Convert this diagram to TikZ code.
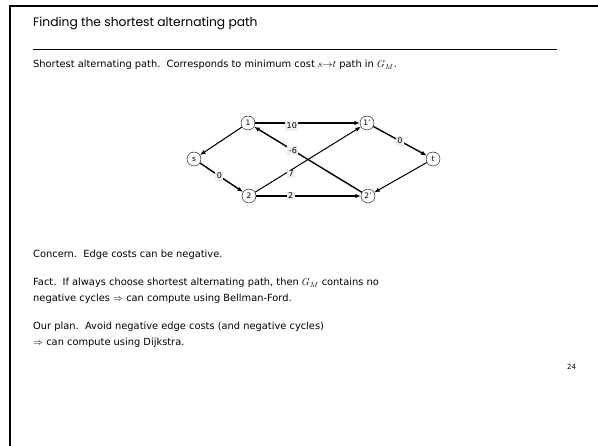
\documentclass[tikz,border=0pt]{standalone}
\usepackage{fontspec}
\setsansfont{DejaVu Sans}
\newfontfamily\titlefont{Poppins}
\usetikzlibrary{positioning,arrows.meta}
\definecolor{lblgray}{HTML}{EEEEEE}

\begin{document}
\begin{tikzpicture}[x=1pt, y=-1pt,
    vertex/.style={draw, circle, inner sep=0pt, minimum size=14pt, font=\sffamily\fontsize{7.5}{8}\selectfont},
    lbl/.style={fill=lblgray, inner sep=1.5pt, font=\sffamily\fontsize{8}{9}\selectfont},
    body/.style={anchor=base west, inner sep=0pt, font=\sffamily\fontsize{9.85}{11}\selectfont},
    heavy/.style={-{Latex[length=5.5pt,width=4.5pt]}, line width=1.4pt},
    light/.style={-{Latex[length=5.5pt,width=4.5pt]}, line width=1pt},
]
\useasboundingbox (0,0) rectangle (598,446);
\draw[line width=2pt] (10,446) -- (10,6) -- (598,6);

\node[body, font=\titlefont\fontsize{12.3}{14}\selectfont] (title) at (33,27) {Finding the shortest alternating path};
\draw[line width=0.8pt] (33,49) -- (557,49);

\node[body] (intro) at (33,68) {Shortest alternating path.\ \ Corresponds to minimum cost $s{\to}t$ path in $G_M$.};

\node[vertex] (s) at (194,159) {s};
\node[vertex] (n1) at (248,123) {1};
\node[vertex] (n2) at (249,196) {2};
\node[vertex] (m1) at (367,123) {1'};
\node[vertex] (m2) at (368,196) {2'};
\node[vertex] (t) at (433,159) {t};

\draw[light] (n1) -- (s);
\draw[heavy] (s) -- node[lbl, pos=0.45] {0} (n2);
\draw[heavy] (n1) -- node[lbl, pos=0.35, yshift=-3pt] {10} (m1);
\draw[heavy] (m2) -- node[lbl, pos=0.64] {-6} (n1);
\draw[light] (n2) -- node[lbl, pos=0.34, yshift=-4pt] {7} (m1);
\draw[heavy] (n2) -- node[lbl, pos=0.33] {2} (m2);
\draw[heavy] (m1) -- node[lbl, pos=0.5] {0} (t);
\draw[light] (t) -- (m2);

\node[body] (concern) at (33,258) {Concern.\ \ Edge costs can be negative.};
\node[body] (fact) at (33,286) {Fact.\ \ If always choose shortest alternating path, then $G_M$ contains no};
\node[body] (fact2) at (33,302) {negative cycles $\Rightarrow$ can compute using Bellman-Ford.};
\node[body] (plan) at (33,330) {Our plan.\ \ {\scshape Avoid} negative edge costs (and negative cycles)};
\node[body] (plan2) at (33,346) {$\Rightarrow$ can compute using Dijkstra.};
\node[body, font=\sffamily\fontsize{7}{8}\selectfont] (page) at (567,370) {24};
\end{tikzpicture}
\end{document}
